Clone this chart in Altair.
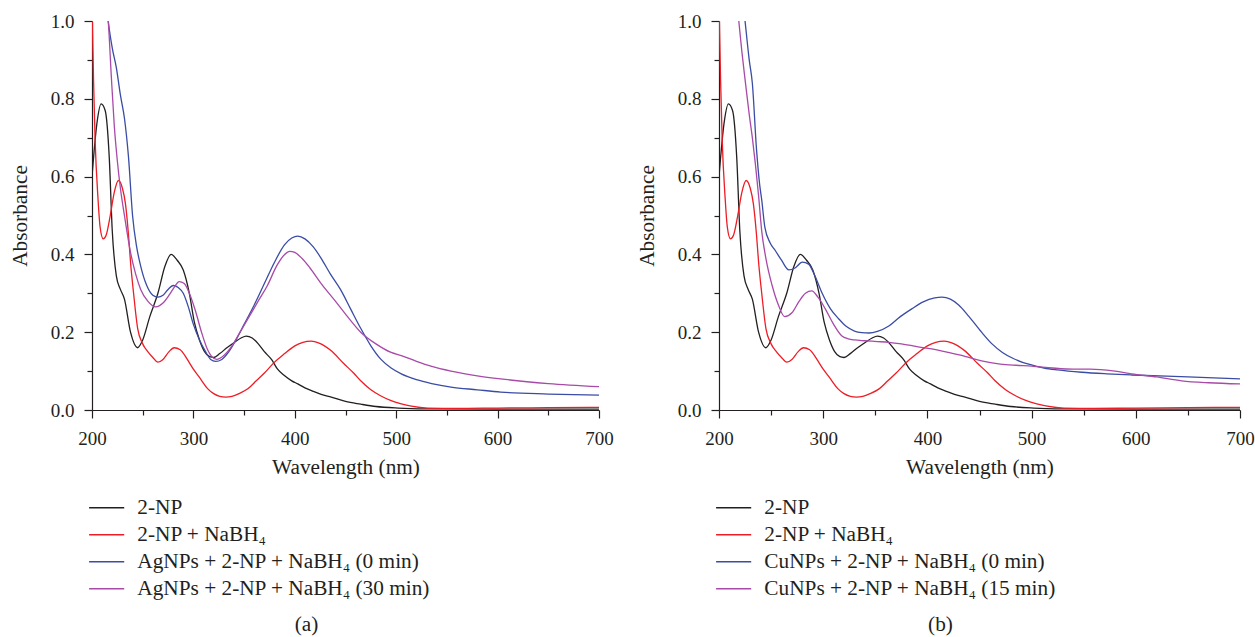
import altair as alt
import pandas as pd

# ---------------- data ----------------
black_wl = [200, 205, 209, 213, 217, 220, 224, 228, 232, 238, 245, 250, 257, 265, 272, 278, 284, 290,
            296, 301, 306, 311, 316, 320, 326, 333, 341, 347, 352, 358, 364, 370, 377, 383, 390, 397,
            403, 410, 418, 426, 436, 450, 465, 480, 502, 530, 600, 700]
black_ab = [0.60, 0.74, 0.787, 0.77, 0.65, 0.46, 0.345, 0.31, 0.285, 0.20, 0.16, 0.18, 0.24, 0.30,
            0.37, 0.40, 0.385, 0.36, 0.30, 0.225, 0.18, 0.15, 0.137, 0.135, 0.145, 0.16, 0.175, 0.185,
            0.19, 0.185, 0.17, 0.15, 0.13, 0.105, 0.088, 0.075, 0.067, 0.057, 0.048, 0.04, 0.033,
            0.022, 0.015, 0.009, 0.005, 0.003, 0.002, 0.002]

red_wl = [200, 201.5, 203, 206, 208, 211, 214, 218, 222, 226, 230, 233, 236, 238, 241, 245, 250, 255,
          260, 265, 270, 276, 281, 287, 294, 300, 307, 314, 320, 326, 332, 338, 345, 354, 362, 370,
          380, 390, 400, 408, 416, 424, 436, 448, 458, 465, 475, 485, 495, 505, 515, 531, 560, 600,
          650, 700]
red_ab = [1.05, 0.85, 0.70, 0.54, 0.47, 0.44, 0.45, 0.50, 0.56, 0.59, 0.57, 0.53, 0.45, 0.38, 0.30,
          0.21, 0.17, 0.15, 0.135, 0.123, 0.13, 0.15, 0.16, 0.155, 0.13, 0.105, 0.08, 0.055, 0.042,
          0.035, 0.033, 0.035, 0.042, 0.055, 0.075, 0.095, 0.123, 0.145, 0.165, 0.174, 0.177, 0.172,
          0.152, 0.12, 0.095, 0.075, 0.052, 0.036, 0.024, 0.016, 0.01, 0.005, 0.004, 0.005, 0.006,
          0.007]

ag0_wl = [214, 216, 220, 224, 228, 232, 236, 240, 244, 248, 254, 260, 265, 270, 275, 280, 285, 290,
          295, 300, 306, 312, 317, 322, 328, 335, 342, 350, 360, 370, 380, 390, 397, 403, 410, 418,
          426, 435, 445, 455, 465, 475, 485, 495, 505, 520, 535, 554, 580, 603, 650, 700]
ag0_ab = [1.05, 1.0, 0.93, 0.88, 0.81, 0.75, 0.65, 0.50, 0.42, 0.37, 0.32, 0.295, 0.29, 0.295, 0.31,
          0.32, 0.315, 0.30, 0.265, 0.22, 0.18, 0.15, 0.13, 0.125, 0.13, 0.15, 0.18, 0.22, 0.27,
          0.325, 0.38, 0.425, 0.442, 0.447, 0.44, 0.42, 0.39, 0.35, 0.31, 0.26, 0.21, 0.165, 0.13,
          0.108, 0.093, 0.078, 0.068, 0.059, 0.052, 0.046, 0.041, 0.038]

ag30_wl = [214, 216, 219, 222, 225, 228, 232, 238, 243, 248, 255, 263, 270, 276, 281, 286, 291, 296,
           302, 308, 314, 318, 323, 330, 338, 346, 355, 365, 373, 382, 390, 395, 400, 407, 415, 426,
           440, 452, 465, 480, 495, 505, 520, 535, 554, 580, 603, 650, 700]
ag30_ab = [1.05, 1.0, 0.86, 0.73, 0.64, 0.57, 0.50, 0.405, 0.35, 0.31, 0.28, 0.265, 0.275, 0.295,
           0.315, 0.33, 0.325, 0.30, 0.255, 0.20, 0.155, 0.138, 0.13, 0.14, 0.165, 0.20, 0.24, 0.285,
           0.32, 0.37, 0.40, 0.408, 0.405, 0.39, 0.365, 0.325, 0.28, 0.24, 0.20, 0.17, 0.148, 0.14,
           0.125, 0.112, 0.10, 0.088, 0.08, 0.068, 0.06]

cu0_wl = [223, 225, 229, 232, 236, 239, 241, 244, 249, 254, 260, 267, 273, 280, 286, 292, 299, 307,
          315, 322, 330, 337, 344, 352, 363, 374, 385, 396, 407, 414, 422, 430, 440, 452, 462, 472,
          482, 492, 500, 512, 525, 548, 572, 596, 650, 700]
cu0_ab = [1.05, 1.0, 0.90, 0.84, 0.67, 0.58, 0.54, 0.47, 0.43, 0.41, 0.385, 0.36, 0.365, 0.38, 0.375,
          0.345, 0.30, 0.26, 0.234, 0.215, 0.203, 0.199, 0.198, 0.202, 0.216, 0.24, 0.26, 0.278,
          0.288, 0.29, 0.285, 0.27, 0.24, 0.20, 0.17, 0.148, 0.133, 0.122, 0.116, 0.108, 0.103, 0.097,
          0.093, 0.09, 0.085, 0.08]

cu15_wl = [217, 219, 222, 225, 229, 232, 235, 238, 241, 245, 251, 257, 263, 270, 277, 283, 289, 295,
           302, 310, 318, 324, 330, 340, 352, 363, 375, 390, 404, 420, 436, 452, 470, 485, 500, 520,
           540, 556, 566, 580, 596, 620, 644, 670, 700]
cu15_ab = [1.05, 1.0, 0.92, 0.85, 0.76, 0.70, 0.63, 0.55, 0.46, 0.39, 0.32, 0.27, 0.24, 0.25, 0.28,
           0.30, 0.306, 0.29, 0.26, 0.22, 0.19, 0.183, 0.18, 0.178, 0.176, 0.174, 0.17, 0.163, 0.157,
           0.148, 0.138, 0.126, 0.118, 0.115, 0.113, 0.108, 0.105, 0.105, 0.104, 0.10, 0.093, 0.085,
           0.075, 0.07, 0.067]

names_a = ["2-NP", "2-NP + NaBH₄", "AgNPs + 2-NP + NaBH₄ (0 min)", "AgNPs + 2-NP + NaBH₄ (30 min)"]
names_b = ["2-NP", "2-NP + NaBH₄", "CuNPs + 2-NP + NaBH₄ (0 min)", "CuNPs + 2-NP + NaBH₄ (15 min)"]
colors = ["#231f20", "#ee1c24", "#3a4ca4", "#a84aa8"]

FONT = "'Liberation Serif', 'DejaVu Serif', serif"
INK = "#231f20"
TICK_FS = 19
TEXT_FS = 21.3


def frame(pairs, names):
    rows = []
    for (wl, ab), name in zip(pairs, names):
        for w, a in zip(wl, ab):
            rows.append({"wl": w, "ab": a, "series": name})
    return pd.DataFrame(rows)


df_a = frame([(black_wl, black_ab), (red_wl, red_ab), (ag0_wl, ag0_ab), (ag30_wl, ag30_ab)], names_a)
df_b = frame([(black_wl, black_ab), (red_wl, red_ab), (cu0_wl, cu0_ab), (cu15_wl, cu15_ab)], names_b)

axis_style = dict(
    labelFont=FONT, titleFont=FONT, labelFontSize=TICK_FS, titleFontSize=TEXT_FS,
    titleFontWeight="normal", labelColor=INK, titleColor=INK,
    domainColor=INK, tickColor=INK, domainWidth=1.2, tickWidth=1.2,
    labelFlush=False, grid=False,
)


def panel(df, names, caption, width):
    x_axis = alt.Axis(
        title="Wavelength (nm)",
        values=list(range(200, 701, 50)),
        labelExpr="datum.value % 100 === 0 ? datum.label : ''",
        tickSize={"condition": {"test": "datum.value % 100 === 0", "value": 8}, "value": 5},
        labelPadding=11,
        titlePadding=8,
        **axis_style,
    )
    y_axis = alt.Axis(
        title="Absorbance",
        values=[i / 10 for i in range(11)],
        labelExpr="round(datum.value * 10) % 2 === 0 ? format(datum.value, '.1f') : ''",
        tickSize={"condition": {"test": "round(datum.value * 10) % 2 === 0", "value": 8}, "value": 5},
        labelPadding=10,
        titlePadding=20,
        **axis_style,
    )
    return (
        alt.Chart(df)
        .mark_line(clip=True, strokeWidth=1.3, interpolate="monotone")
        .encode(
            x=alt.X("wl:Q", scale=alt.Scale(domain=[200, 700], nice=False, zero=False), axis=x_axis),
            y=alt.Y("ab:Q", scale=alt.Scale(domain=[0, 1], nice=False), axis=y_axis),
            color=alt.Color(
                "series:N",
                scale=alt.Scale(domain=names, range=colors),
                legend=alt.Legend(
                    title=None,
                    orient="none",
                    legendX=4,
                    legendY=476,
                    symbolType="M-4,0H4",
                    symbolSize=77,
                    symbolStrokeWidth=1.5,
                    labelFont=FONT,
                    labelFontSize=TEXT_FS,
                    labelColor=INK,
                    labelOffset=20,
                    labelLimit=600,
                    rowPadding=5,
                ),
            ),
        )
        .properties(
            width=width,
            height=389,
            title=alt.TitleParams(
                caption, orient="bottom", offset=15, font=FONT, fontSize=TEXT_FS,
                fontWeight="normal", color=INK, anchor="middle", frame="group", dx=-39,
            ),
        )
    )


chart = (
    alt.hconcat(panel(df_a, names_a, "(a)", 507), panel(df_b, names_b, "(b)", 521), spacing=22)
    .resolve_scale(color="independent")
    .properties(padding={"left": 9, "top": 12, "right": 0, "bottom": 0})
    .configure_view(stroke=None)
)

chart.save("out.html", embed_options={"renderer": "svg", "actions": False})
